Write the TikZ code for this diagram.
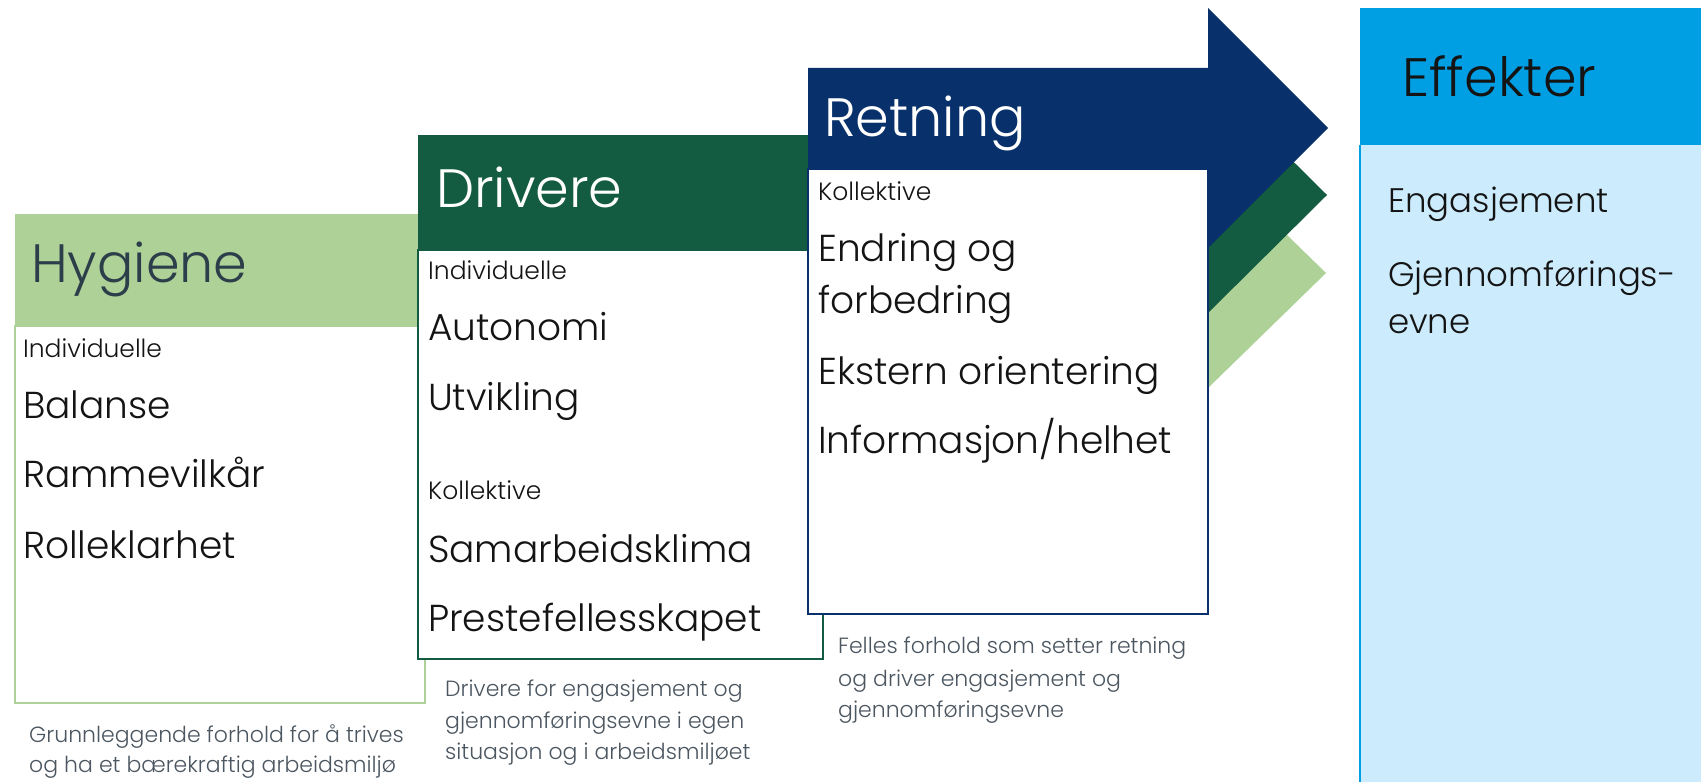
\documentclass[tikz,border=0pt]{standalone}
\usepackage{fontspec}
\setmainfont{Poppins}[UprightFont={* Light}]
\definecolor{lgreen}{RGB}{173,209,151}
\definecolor{dgreen}{RGB}{20,92,65}
\definecolor{navy}{RGB}{8,49,107}
\definecolor{eblue}{RGB}{0,159,227}
\definecolor{elight}{RGB}{204,235,252}
\definecolor{slate}{RGB}{44,62,74}
\definecolor{ink}{RGB}{20,20,20}
\definecolor{capgray}{RGB}{75,86,96}
\tikzset{
  hdr/.style={anchor=base west, inner sep=0pt, font=\fontsize{54bp}{60bp}\selectfont},
  item/.style={anchor=base west, inner sep=0pt, text=ink, font=\fontsize{37.5bp}{42bp}\selectfont},
  effitem/.style={anchor=base west, inner sep=0pt, text=ink, font=\fontsize{34bp}{40bp}\selectfont},
  sub/.style={anchor=base west, inner sep=0pt, text=ink, font=\fontsize{25bp}{30bp}\selectfont},
  capt/.style={anchor=base west, inner sep=0pt, text=capgray, font=\fontsize{22bp}{26bp}\selectfont},
  boxline/.style={line width=2.5bp, fill=white}
}
\begin{document}
\begin{tikzpicture}[x=1bp,y=-1bp]
\useasboundingbox (0,0) rectangle (1701,782);
% light green arrow
\fill[lgreen] (15,214) -- (1208,214) -- (1208,158) -- (1326,273) -- (1208,388) -- (1208,332) -- (15,332) -- cycle;
\draw[boxline, draw=lgreen] (15,326) rectangle (425,703);
% dark green arrow
\fill[dgreen] (418,135) -- (1208,135) -- (1208,77) -- (1327,195) -- (1208,313) -- (1208,255) -- (418,255) -- cycle;
\draw[boxline, draw=dgreen] (418,250) rectangle (823,659);
% navy arrow
\fill[navy] (808,68) -- (1208,68) -- (1208,8) -- (1328,128) -- (1208,248) -- (1208,188) -- (808,188) -- cycle;
\draw[boxline, draw=navy] (808,169) rectangle (1208,614);
% Effekter
\fill[eblue] (1360,8) rectangle (1701,145);
\fill[elight] (1360,145) rectangle (1701,782);
\draw[eblue, line width=2.5bp] (1360,145) -- (1360,782);

% headers
\node[hdr, text=slate] (hhyg) at (31,282) {Hygiene};
\node[hdr, text=white] (hdri) at (436,207) {Drivere};
\node[hdr, text=white] (hret) at (824,136) {Retning};
\node[hdr, text=ink] (heff) at (1402,96) {Effekter};

% Hygiene items
\node[sub] (hy0) at (23,357) {Individuelle};
\node[item] (hy1) at (23,418) {Balanse};
\node[item] (hy2) at (23,487) {Rammevilkår};
\node[item] (hy3) at (23,558) {Rolleklarhet};
\node[capt] (hyc1) at (29,742) {Grunnleggende forhold for å trives};
\node[capt] (hyc2) at (29,772) {og ha et bærekraftig arbeidsmiljø};

% Drivere items
\node[sub] (dr0) at (428,279) {Individuelle};
\node[item] (dr1) at (428,340) {Autonomi};
\node[item] (dr2) at (428,410) {Utvikling};
\node[sub] (dr3) at (428,499) {Kollektive};
\node[item] (dr4) at (428,562) {Samarbeidsklima};
\node[item] (dr5) at (428,631) {Prestefellesskapet};
\node[capt] (drc1) at (445,696) {Drivere for engasjement og};
\node[capt] (drc2) at (445,728) {gjennomføringsevne i egen};
\node[capt] (drc3) at (445,759) {situasjon og i arbeidsmiljøet};

% Retning items
\node[sub] (re0) at (818,200) {Kollektive};
\node[item] (re1) at (818,261) {Endring og};
\node[item] (re2) at (818,313) {forbedring};
\node[item] (re3) at (818,384) {Ekstern orientering};
\node[item] (re4) at (818,453) {Informasjon/helhet};
\node[capt] (rec1) at (838,653) {Felles forhold som setter retning};
\node[capt] (rec2) at (838,686) {og driver engasjement og};
\node[capt] (rec3) at (838,717) {gjennomføringsevne};

% Effekter items
\node[effitem] (ef1) at (1388,212) {Engasjement};
\node[effitem] (ef2) at (1388,286) {Gjennomførings-};
\node[effitem] (ef3) at (1388,333) {evne};
\end{tikzpicture}
\end{document}
